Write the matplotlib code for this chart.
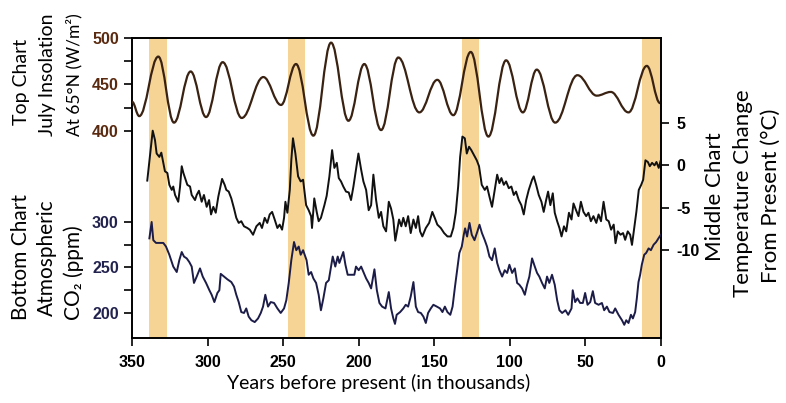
import numpy as np
import matplotlib
matplotlib.use("Agg")
import matplotlib.pyplot as plt
from matplotlib.path import Path
from matplotlib.patches import PathPatch
from matplotlib.ticker import FixedLocator

# July insolation at 65N, turning points of the curve (kyr before present, W/m2)
ins_kyr = [350, 345.2, 332.6, 322.2, 311.2, 301, 290, 277.4, 263.1, 251.4, 241.5, 230,
           218.3, 206.8, 196.3, 185.2, 173.8, 159.9, 148, 137.4, 125.9, 114.2, 102.5,
           91.4, 82.2, 70, 55.3, 42.5, 33.2, 21.5, 9.4, 0.6]
ins_wm2 = [431.5, 416, 480, 409, 464, 415, 474, 414, 458, 428, 472, 395,
           495, 411, 472, 401, 479, 420, 455, 417, 485, 394, 476,
           420, 466, 409, 460, 438, 442, 420, 470, 430]

# temperature change from present (deg C)
tmp_kyr = [339.9, 336.3, 334.8, 333.7, 331.9, 330.6, 329.3, 328.2, 326.6, 325.3, 323.7, 322.7,
           321.5, 319.4, 318.2, 317.1, 316.0, 314.9, 313.4, 311.6, 310.5, 308.3, 307.2, 305.7,
           303.9, 302.4, 300.6, 299.0, 297.7, 296.2, 294.6, 292.9, 290.4, 288.7, 287.6, 286.0,
           284.3, 282.5, 281.0, 279.4, 277.7, 275.9, 273.7, 272.1, 269.9, 267.7, 265.5, 264.0,
           262.2, 260.5, 258.9, 257.3, 255.6, 253.8, 252.3, 250.7, 249.4, 248.5, 247.2, 245.6,
           244.6, 243.5, 241.9, 240.1, 238.4, 236.8, 234.8, 233.1, 231.5, 230.9, 229.4, 227.8,
           226.5, 225.0, 222.7, 221.2, 219.4, 217.6, 216.1, 214.5, 213.2, 211.7, 210.2, 208.4,
           206.6, 205.1, 203.5, 201.8, 200.2, 198.4, 196.9, 195.1, 193.4, 191.8, 190.3, 188.5,
           186.7, 185.2, 183.7, 181.9, 180.1, 178.6, 177.1, 175.8, 173.3, 171.8, 170.5, 168.9,
           167.3, 165.6, 163.8, 162.2, 160.7, 159.4, 157.9, 155.6, 153.4, 151.3, 149.7, 148.0,
           145.7, 143.5, 141.3, 139.1, 137.4, 135.8, 134.2, 132.9, 131.4, 129.8, 128.5, 127.0,
           125.5, 123.7, 121.9, 120.4, 118.6, 116.6, 115.1, 113.5, 111.8, 110.0, 108.4, 106.9,
           105.6, 104.0, 102.5, 100.7, 99.0, 97.4, 95.9, 94.1, 92.4, 90.8, 89.2, 87.5,
           85.3, 84.2, 82.6, 80.9, 79.1, 77.6, 76.0, 74.7, 73.2, 71.6, 70.3, 68.7,
           67.2, 65.8, 64.2, 62.7, 60.9, 59.2, 57.9, 56.2, 54.6, 53.0, 51.3, 49.5,
           48.0, 46.4, 44.7, 42.8, 41.3, 39.7, 38.0, 36.2, 34.6, 33.0, 31.3, 30.1,
           28.6, 26.8, 25.1, 23.7, 22.0, 20.4, 19.2, 17.7, 16.3, 14.7, 13.1, 11.8,
           10.3, 8.7, 7.4, 5.9, 4.3, 3.0, 1.5, 0.3]
tmp_c = [-1.8, 4.1, 3.0, 1.4, 1.0, 1.5, 0.3, -0.7, -0.9, -2.3, -2.9, -2.5,
         -3.5, -4.3, -2.5, -0.1, -0.9, -1.5, -2.3, -2.5, -3.5, -4.1, -3.5, -3.0,
         -4.3, -3.5, -4.9, -4.1, -5.8, -4.9, -5.6, -3.7, -1.6, -2.3, -2.9, -3.1,
         -3.9, -5.1, -6.2, -6.8, -6.6, -7.2, -7.4, -7.6, -8.2, -7.2, -6.8, -7.4,
         -6.2, -6.8, -5.8, -5.5, -6.4, -7.4, -7.0, -7.6, -6.2, -4.3, -5.6, -2.9,
         0.6, 3.2, 1.4, -1.3, -1.9, -1.7, -4.7, -5.3, -6.0, -7.4, -3.9, -5.5,
         -6.6, -6.2, -4.7, -3.6, -1.3, 1.8, -0.3, 0.3, -1.5, -1.9, -2.5, -3.1,
         -3.2, -4.1, -2.5, -0.5, 1.4, -0.5, -1.9, -2.9, -5.3, -4.7, -1.1, -4.1,
         -6.2, -5.5, -7.2, -7.8, -4.3, -5.1, -6.4, -8.9, -6.4, -7.2, -6.2, -7.2,
         -6.0, -8.0, -6.4, -7.4, -6.0, -7.8, -8.4, -7.4, -6.8, -5.5, -6.2, -7.0,
         -7.4, -8.0, -8.4, -8.4, -7.4, -5.6, -2.5, 1.0, 3.4, 3.2, 1.4, 2.2,
         1.8, 1.2, 0.6, -0.1, -2.3, -2.9, -2.5, -3.7, -4.9, -2.9, -1.1, -2.1,
         -1.5, -2.3, -1.9, -2.7, -2.5, -3.5, -3.1, -4.1, -4.7, -5.8, -4.1, -2.9,
         -1.7, -1.3, -2.3, -3.5, -4.3, -5.5, -4.1, -3.1, -4.7, -3.3, -5.6, -6.6,
         -7.4, -8.4, -7.2, -7.8, -5.6, -6.4, -4.5, -5.3, -6.0, -4.3, -5.5, -6.0,
         -5.6, -6.6, -6.0, -6.8, -5.8, -6.6, -4.3, -6.4, -6.6, -7.6, -7.0, -9.2,
         -7.8, -8.2, -8.0, -8.8, -7.8, -8.2, -9.4, -7.4, -5.5, -2.9, -2.3, -1.7,
         0.6, 0.4, -0.1, 0.3, 0.0, 0.4, -0.3, 0.5]

# atmospheric CO2 (ppm)
co2_kyr = [338.5, 337.0, 335.9, 334.1, 331.5, 329.3, 327.5, 325.3, 322.7, 320.4, 318.7, 317.1,
           315.6, 313.8, 312.1, 310.5, 309.0, 307.2, 305.0, 303.2, 301.0, 298.8, 297.3, 295.5,
           293.5, 292.2, 291.3, 289.1, 286.9, 284.3, 282.5, 281.0, 279.4, 277.7, 275.9, 274.4,
           272.8, 271.0, 268.8, 266.6, 264.8, 263.3, 261.8, 260.0, 258.2, 256.0, 253.8, 251.6,
           249.4, 247.9, 246.3, 244.6, 242.8, 241.3, 239.7, 238.4, 236.8, 235.3, 234.5, 233.1,
           231.5, 230.0, 228.2, 226.5, 225.0, 223.4, 221.6, 219.8, 218.3, 217.2, 215.5, 213.9,
           212.8, 210.2, 208.8, 207.3, 205.1, 202.9, 201.8, 200.0, 198.4, 196.9, 195.1, 193.4,
           191.8, 189.6, 188.0, 186.3, 184.5, 182.3, 180.1, 178.6, 177.1, 176.0, 174.9, 172.6,
           170.5, 168.9, 167.3, 165.6, 163.8, 162.2, 160.7, 158.9, 157.2, 155.6, 154.1, 152.3,
           150.6, 148.3, 146.2, 144.6, 143.0, 141.3, 139.4, 137.9, 136.3, 134.9, 133.4, 131.8,
           130.5, 129.6, 128.3, 126.7, 125.2, 123.4, 121.6, 120.1, 118.5, 116.6, 115.1, 113.5,
           111.8, 110.0, 108.4, 106.9, 105.1, 103.4, 101.8, 100.3, 98.5, 96.7, 95.2, 93.7,
           91.9, 90.1, 88.6, 87.1, 85.3, 83.5, 82.0, 80.5, 78.7, 76.9, 75.4, 73.9,
           72.1, 70.3, 68.7, 67.2, 65.4, 63.2, 61.4, 59.2, 58.4, 56.8, 55.3, 53.5,
           51.7, 50.2, 48.6, 46.8, 45.1, 43.6, 41.3, 39.1, 37.6, 35.8, 34.1, 31.8,
           30.3, 28.1, 25.8, 24.3, 23.0, 21.5, 19.9, 18.6, 17.1, 16.0, 14.9, 13.8,
           12.7, 11.1, 9.8, 8.2, 6.7, 4.9, 3.2, 1.7, 0.1]
co2_ppm = [282, 300, 280, 277, 277, 277, 273, 264, 251, 245, 258, 267,
           262, 260, 256, 251, 233, 240, 249, 240, 233, 225, 220, 212,
           222, 225, 243, 240, 237, 234, 229, 220, 212, 201, 200, 205,
           196, 192, 190, 194, 200, 207, 220, 207, 212, 211, 205, 200,
           205, 214, 233, 258, 278, 269, 273, 264, 269, 262, 258, 242,
           245, 238, 233, 220, 203, 216, 233, 236, 251, 262, 251, 262,
           255, 267, 253, 242, 242, 242, 251, 247, 251, 245, 238, 233,
           227, 248, 225, 211, 207, 205, 223, 205, 194, 188, 198, 201,
           205, 209, 207, 218, 234, 207, 201, 200, 196, 189, 200, 205,
           209, 207, 205, 201, 207, 201, 198, 207, 229, 247, 266, 273,
           286, 293, 284, 299, 286, 280, 289, 297, 288, 280, 273, 262,
           258, 271, 255, 247, 240, 247, 244, 253, 244, 249, 233, 231,
           227, 220, 231, 240, 260, 251, 244, 240, 233, 227, 240, 233,
           242, 231, 214, 203, 200, 203, 198, 205, 225, 212, 216, 211,
           211, 222, 209, 212, 224, 211, 209, 211, 203, 207, 201, 200,
           205, 198, 192, 187, 192, 189, 198, 194, 201, 216, 234, 242,
           253, 264, 266, 271, 269, 275, 278, 282, 286]

# interglacial bands (kyr before present)
band_start = [338.6, 246.5, 131.8, 12.3]
band_end = [327.0, 235.5, 120.4, 0.0]

x_ticks = [350, 300, 250, 200, 150, 100, 50, 0]

label_font = ['Lato', 'DejaVu Sans']
tick_font = {'family': 'Liberation Sans', 'weight': 'bold', 'size': 11.5}

fig = plt.figure(figsize=(7.86, 4.03), dpi=100)
ax = fig.add_axes([132/786, 65/403, 529/786, 300/403])
ax_ins = ax.twinx()
ax_t = ax.twinx()

for s, e in zip(band_start, band_end):
    ax.axvspan(s, e, color='#f5d496', zorder=0, lw=0)

# CO2 on the base axes
ax.plot(co2_kyr, co2_ppm, color='#1c1c48', lw=1.4, zorder=3)
ax.set_xlim(350, 0)
ax.set_ylim(172.5, 502.2)
ax.yaxis.set_major_locator(FixedLocator([200, 250, 300]))
ax.yaxis.set_minor_locator(FixedLocator([225, 275]))
ax.set_xticks(x_ticks)
ax.set_xticklabels([str(v) for v in x_ticks], fontdict=tick_font)
ax.set_yticklabels(['200', '250', '300'], fontdict=tick_font, color='#22224e')
ax.tick_params(axis='both', which='major', length=6, width=1.2, direction='out')
ax.tick_params(axis='y', which='minor', length=6, width=1.2)
ax.tick_params(axis='x', pad=6)
for sp in ax.spines.values():
    sp.set_linewidth(1.4)

# insolation: smooth curve through the turning points
verts = [(ins_kyr[0], ins_wm2[0])]
codes = [Path.MOVETO]
for i in range(1, len(ins_kyr)):
    t0, v0 = ins_kyr[i-1], ins_wm2[i-1]
    t1, v1 = ins_kyr[i], ins_wm2[i]
    dt = t1 - t0
    verts += [(t0 + 0.38*dt, v0), (t1 - 0.38*dt, v1), (t1, v1)]
    codes += [Path.CURVE4]*3
ax_ins.add_patch(PathPatch(Path(verts, codes), fill=False, edgecolor='#3a2212', lw=1.6, zorder=3))
ax_ins.set_ylim(177.4, 500)
ax_ins.yaxis.tick_left()
ax_ins.yaxis.set_major_locator(FixedLocator([400, 450, 500]))
ax_ins.yaxis.set_minor_locator(FixedLocator([425, 475]))
ax_ins.set_yticklabels(['400', '450', '500'], fontdict=tick_font, color='#5a2a10')
ax_ins.tick_params(axis='y', which='both', length=6, width=1.2)
for sp in ax_ins.spines.values():
    sp.set_visible(False)

# temperature
ax_t.plot(tmp_kyr, tmp_c, color='#111111', lw=1.4, zorder=3)
ax_t.set_ylim(-20.4, 15.05)
ax_t.set_yticks([-10, -5, 0, 5])
ax_t.set_yticklabels(['-10', '-5', '0', '5'], fontdict=tick_font)
ax_t.tick_params(axis='y', length=6, width=1.2, pad=5)
for sp in ax_t.spines.values():
    sp.set_visible(False)

# axis titles
fig.text(21/786, 1 - 125/403, 'Top Chart', rotation=90, ha='center', va='bottom', fontsize=14, family=label_font)
fig.text(47/786, 1 - 136/403, 'July Insolation', rotation=90, ha='center', va='bottom', fontsize=14, family=label_font)
fig.text(74/786, 1 - 136/403, 'At 65°N (W/m²)', rotation=90, ha='center', va='bottom', fontsize=12.5, family=label_font)
fig.text(21/786, 1 - 320/403, 'Bottom Chart', rotation=90, ha='center', va='bottom', fontsize=15, family=label_font)
fig.text(47/786, 1 - 316/403, 'Atmospheric', rotation=90, ha='center', va='bottom', fontsize=15, family=label_font)
fig.text(74/786, 1 - 320/403, 'CO₂ (ppm)', rotation=90, ha='center', va='bottom', fontsize=15, family=label_font)
fig.text(715/786, 1 - 197/403, 'Middle Chart', rotation=90, ha='center', va='center', fontsize=16, family=label_font)
fig.text(743/786, 1 - 193/403, 'Temperature Change', rotation=90, ha='center', va='center', fontsize=16, family=label_font)
fig.text(771/786, 1 - 196/403, 'From Present (°C)', rotation=90, ha='center', va='center', fontsize=16, family=label_font)
fig.text(379/786, 1 - 383/403, 'Years before present (in thousands)', ha='center', va='center', fontsize=14, family=label_font)

fig.savefig('out.png', dpi=100)
